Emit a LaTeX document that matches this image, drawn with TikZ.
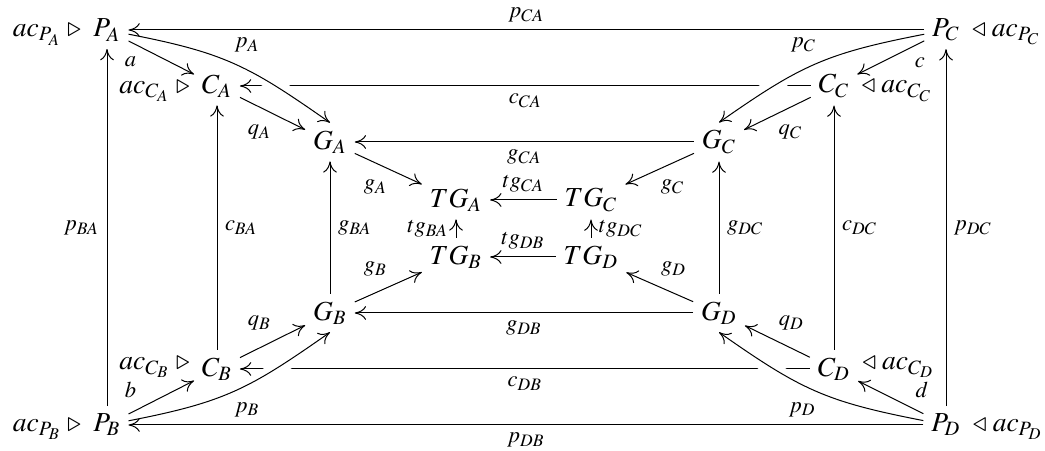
\documentclass[tikz,border=0pt]{standalone}
\usepackage{mathptmx}
\usetikzlibrary{arrows.meta,positioning}

\begin{document}
\begin{tikzpicture}[x=0.4pt,y=-0.4pt,>={Computer Modern Rightarrow[length=4.5pt,width=5.5pt]}]
  \tikzstyle{obj}=[inner sep=3pt,font=\fontsize{11}{13}\selectfont]
  \tikzstyle{side}=[inner sep=0.5pt,font=\fontsize{11}{13}\selectfont]
  \tikzstyle{lab}=[font=\fontsize{9}{10}\selectfont,inner sep=3pt]
  \tikzstyle{crossover}=[preaction={draw,white,-,line width=6pt,shorten <=14pt,shorten >=10pt}]
  \useasboundingbox (0,0) rectangle (1045,451);
  % corners
  \node[obj] (PA) at (107,30) {$P_A$};
  \node[obj] (PB) at (107,425) {$P_B$};
  \node[obj] (PC) at (946,30) {$P_C$};
  \node[obj] (PD) at (946,425) {$P_D$};
  \node[side,base left=1pt of PA] (acPA) {$ac_{P_A}\;\triangleright$};
  \node[side,base left=1pt of PB] (acPB) {$ac_{P_B}\;\triangleright$};
  \node[side,base right=1pt of PC] (acPC) {$\triangleleft\;ac_{P_C}$};
  \node[side,base right=1pt of PD] (acPD) {$\triangleleft\;ac_{P_D}$};
  % C square
  \node[obj] (CA) at (217,86) {$C_A$};
  \node[obj] (CB) at (217,369) {$C_B$};
  \node[obj] (CC) at (834,86) {$C_C$};
  \node[obj] (CD) at (834,369) {$C_D$};
  \node[side,base left=1pt of CA] (acCA) {$ac_{C_A}\;\triangleright$};
  \node[side,base left=1pt of CB,yshift=2.5pt] (acCB) {$ac_{C_B}\;\triangleright$};
  \node[side,base right=1pt of CC] (acCC) {$\triangleleft\;ac_{C_C}$};
  \node[side,base right=1pt of CD,yshift=2.5pt] (acCD) {$\triangleleft\;ac_{C_D}$};
  % G square
  \node[obj] (GA) at (330,142) {$G_A$};
  \node[obj] (GB) at (330,313) {$G_B$};
  \node[obj] (GC) at (719,142) {$G_C$};
  \node[obj] (GD) at (719,313) {$G_D$};
  % TG square
  \node[obj] (TGA) at (456,200) {$TG_A$};
  \node[obj] (TGB) at (456,257) {$TG_B$};
  \node[obj] (TGC) at (591,200) {$TG_C$};
  \node[obj] (TGD) at (591,257) {$TG_D$};

  % straight arrows
  \draw[->] (PC) -- node[lab,above] (lpCA) {$p_{CA}$} (PA);
  \draw[->] (PD) -- node[lab,below] (lpDB) {$p_{DB}$} (PB);
  \draw[->] (PB) -- node[lab,left] (lpBA) {$p_{BA}$} (PA);
  \draw[->] (PD) -- node[lab,right] (lpDC) {$p_{DC}$} (PC);
  \draw[->] (CC) -- node[lab,below] (lcCA) {$c_{CA}$} (CA);
  \draw[->] (CD) -- node[lab,below] (lcDB) {$c_{DB}$} (CB);
  \draw[->] (CB) -- node[lab,right] (lcBA) {$c_{BA}$} (CA);
  \draw[->] (CD) -- node[lab,right] (lcDC) {$c_{DC}$} (CC);
  \draw[->] (GC) -- node[lab,below] (lgCA) {$g_{CA}$} (GA);
  \draw[->] (GD) -- node[lab,below] (lgDB) {$g_{DB}$} (GB);
  \draw[->] (GB) -- node[lab,right] (lgBA) {$g_{BA}$} (GA);
  \draw[->] (GD) -- node[lab,right] (lgDC) {$g_{DC}$} (GC);
  \draw[->] (TGC) -- node[lab,above] (ltCA) {$tg_{CA}$} (TGA);
  \draw[->] (TGD) -- node[lab,above] (ltDB) {$tg_{DB}$} (TGB);
  \draw[->] (TGB) -- node[lab,left] (ltBA) {$tg_{BA}$} (TGA);
  \draw[->] (TGD) -- node[lab,right] (ltDC) {$tg_{DC}$} (TGC);

  % curved arrows over the c lines
  \draw[->,crossover] (PA) to[out=-11,in=145,looseness=1.15] node[lab,pos=0.45,above right] (lpA) {$p_A$} (GA.north);
  \draw[->,crossover] (PB) to[out=11,in=-145,looseness=1.15] node[lab,pos=0.45,below right] (lpB) {$p_B$} (GB.south);
  \draw[->,crossover] (PC) to[out=191,in=35,looseness=1.15] node[lab,pos=0.45,above left] (lpC) {$p_C$} (GC.north);
  \draw[->,crossover] (PD) to[out=169,in=-35,looseness=1.15] node[lab,pos=0.45,below left] (lpD) {$p_D$} (GD.south);

  % diagonals
  \draw[->] (PA) -- node[lab,pos=0.24,below left] (la) {$a$} (CA);
  \draw[->] (PB) -- node[lab,pos=0.24,above left] (lb) {$b$} (CB);
  \draw[->] (PC) -- node[lab,pos=0.26,below right] (lc) {$c$} (CC);
  \draw[->] (PD) -- node[lab,pos=0.24,above right] (ld) {$d$} (CD);
  \draw[->] (CA) -- node[lab,pos=0.6,below left] (lqA) {$q_A$} (GA);
  \draw[->] (CB) -- node[lab,pos=0.6,above left] (lqB) {$q_B$} (GB);
  \draw[->] (CC) -- node[lab,pos=0.6,below right] (lqC) {$q_C$} (GC);
  \draw[->] (CD) -- node[lab,pos=0.6,above right] (lqD) {$q_D$} (GD);
  \draw[->] (GA) -- node[lab,pos=0.6,below left] (lgA) {$g_A$} (TGA);
  \draw[->] (GB) -- node[lab,pos=0.6,above left] (lgB) {$g_B$} (TGB);
  \draw[->] (GC) -- node[lab,pos=0.6,below right] (lgC) {$g_C$} (TGC);
  \draw[->] (GD) -- node[lab,pos=0.6,above right] (lgD) {$g_D$} (TGD);
\end{tikzpicture}
\end{document}
